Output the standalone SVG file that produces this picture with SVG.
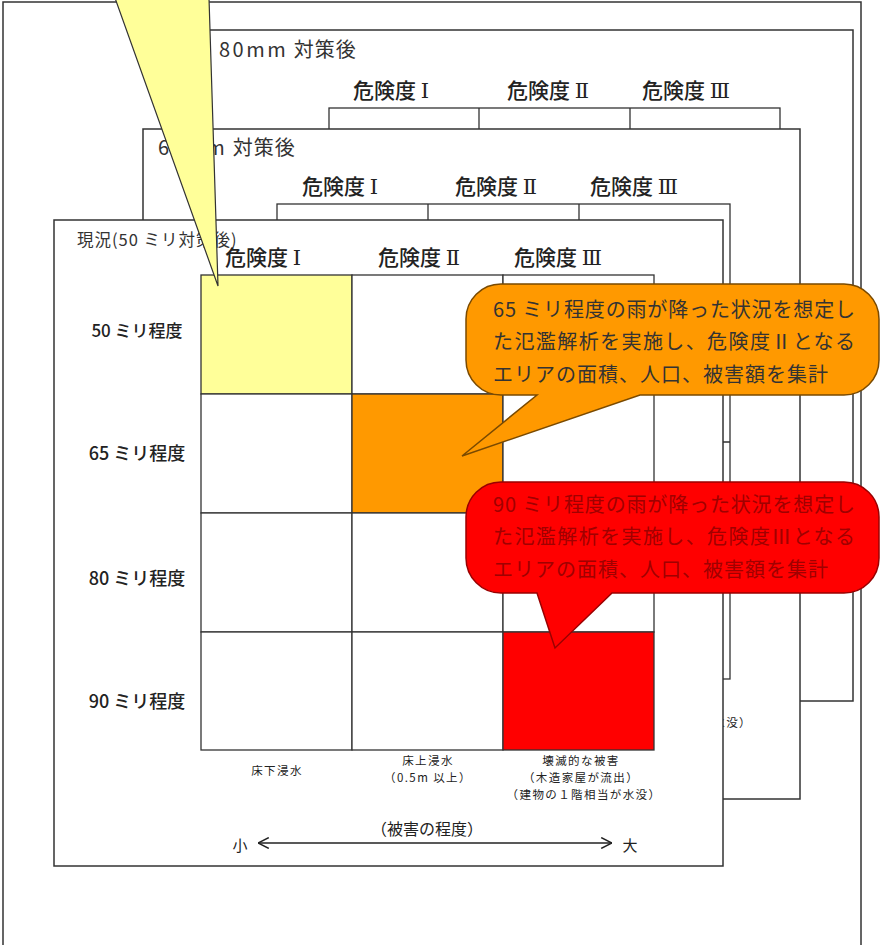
<svg xmlns="http://www.w3.org/2000/svg" width="881" height="945" viewBox="0 0 881 945">
<style>
  .frame{fill:#fff;stroke:#333;stroke-width:1.5}
  .grid{fill:none;stroke:#333;stroke-width:1.3}
  .cell{fill:#fff;stroke:#333;stroke-width:1.3}
  .t{font-family:"Noto Sans CJK JP","Noto Sans CJK SC",sans-serif;fill:#222}
  .ttl{font-size:20px;fill:#333;letter-spacing:1px}
  .mm{letter-spacing:2.5px}
  .hdr{font-size:21px;font-weight:500}
  .rn{font-family:"DejaVu Serif","Liberation Serif",serif;font-weight:normal}
  .row{font-size:18px;text-anchor:middle;font-weight:500}
  .col{font-size:11.5px;text-anchor:middle;letter-spacing:1.4px}
  .co{font-size:20px}
</style>
<defs>
  <marker id="chev" viewBox="0 0 10 10" refX="10" refY="5" markerWidth="12" markerHeight="12" markerUnits="userSpaceOnUse" orient="auto-start-reverse">
    <path d="M1,0.5 L10,5 L1,9.5" fill="none" stroke="#222" stroke-width="1.3"/>
  </marker>
</defs>

<g id="outer-frame">
  <rect x="3" y="2" width="858" height="960" class="frame"/>
</g>

<g id="panel-80">
  <rect x="200" y="30" width="653" height="671" class="frame"/>
  <text x="219" y="57" class="t ttl"><tspan class="mm">80mm</tspan> 対策後</text>
  <text x="353" y="98" class="t hdr">危険度 <tspan class="rn">Ⅰ</tspan></text>
  <text x="507" y="98" class="t hdr">危険度 <tspan class="rn">Ⅱ</tspan></text>
  <text x="642" y="98" class="t hdr">危険度 <tspan class="rn">Ⅲ</tspan></text>
  <rect x="329" y="108" width="451" height="475" class="grid"/>
  <path d="M479,108V583M630,108V583M329,227H780M329,346H780M329,465H780" class="grid"/>
</g>

<g id="panel-60">
  <rect x="143" y="129" width="657" height="670" class="frame"/>
  <text x="158" y="155" class="t ttl"><tspan class="mm">60mm</tspan> 対策後</text>
  <text x="302" y="194" class="t hdr">危険度 <tspan class="rn">Ⅰ</tspan></text>
  <text x="455" y="194" class="t hdr">危険度 <tspan class="rn">Ⅱ</tspan></text>
  <text x="590" y="194" class="t hdr">危険度 <tspan class="rn">Ⅲ</tspan></text>
  <rect x="277" y="204" width="453" height="475" class="grid"/>
  <path d="M428,204V679M579,204V679M277,323H730M277,442H730M277,561H730" class="grid"/>
  <text x="752" y="727" class="t col" style="text-anchor:end">（建物の１階相当が水没）</text>
</g>

<g id="panel-50">
  <rect x="54" y="220" width="669" height="646" class="frame"/>
  <text x="77" y="246" class="t" style="font-size:16.5px;fill:#333;letter-spacing:1px">現況(50 ミリ対策後)</text>
  <text x="225" y="265" class="t hdr">危険度 <tspan class="rn">Ⅰ</tspan></text>
  <text x="378" y="265" class="t hdr">危険度 <tspan class="rn">Ⅱ</tspan></text>
  <text x="514" y="265" class="t hdr">危険度 <tspan class="rn">Ⅲ</tspan></text>
  <g id="grid-50">
    <rect x="201" y="275" width="151" height="119" class="cell" style="fill:#FFFF99"/>
    <rect x="352" y="275" width="151" height="119" class="cell"/>
    <rect x="503" y="275" width="151" height="119" class="cell"/>
    <rect x="201" y="394" width="151" height="119" class="cell"/>
    <rect x="352" y="394" width="151" height="119" class="cell" style="fill:#FF9900"/>
    <rect x="503" y="394" width="151" height="119" class="cell"/>
    <rect x="201" y="513" width="151" height="119" class="cell"/>
    <rect x="352" y="513" width="151" height="119" class="cell"/>
    <rect x="503" y="513" width="151" height="119" class="cell"/>
    <rect x="201" y="632" width="151" height="118" class="cell"/>
    <rect x="352" y="632" width="151" height="118" class="cell"/>
    <rect x="503" y="632" width="151" height="118" class="cell" style="fill:#FF0000"/>
  </g>
  <text x="137" y="337" class="t row" style="font-size:17px">50 ミリ程度</text>
  <text x="137" y="460" class="t row">65 ミリ程度</text>
  <text x="137" y="585" class="t row">80 ミリ程度</text>
  <text x="137" y="708" class="t row">90 ミリ程度</text>
  <text x="277" y="775" class="t col">床下浸水</text>
  <text x="428" y="765" class="t col">床上浸水</text>
  <text x="428" y="782" class="t col">（0.5m 以上）</text>
  <text x="581" y="765" class="t col">壊滅的な被害</text>
  <text x="581" y="782" class="t col">（木造家屋が流出）</text>
  <text x="584" y="799" class="t col">（建物の１階相当が水没）</text>
  <text x="427" y="835" class="t" style="font-size:16px;text-anchor:middle">（被害の程度）</text>
  <text x="240" y="851" class="t" style="font-size:15px;text-anchor:middle">小</text>
  <text x="630" y="851" class="t" style="font-size:15px;text-anchor:middle">大</text>
</g>

<g id="connectors">
  <line x1="258" y1="843" x2="612" y2="843" stroke="#222" stroke-width="1.5" marker-start="url(#chev)" marker-end="url(#chev)"/>
</g>

<g id="callout-yellow">
  <polygon points="115,-2 209,-2 218,286" fill="#FFFF99" stroke="#333" stroke-width="1.2"/>
</g>

<g id="callout-65">
  <path d="M501,284H844A35,35 0 0 1 879,319V360A35,35 0 0 1 844,395H640L462,456L537,395H501A35,35 0 0 1 466,360V319A35,35 0 0 1 501,284Z" fill="#FF9900" stroke="#7a4a00" stroke-width="1.5"/>
  <text x="493" y="317" class="t co" style="fill:#333" textLength="362">65 ミリ程度の雨が降った状況を想定し</text>
  <text x="493" y="349" class="t co" style="fill:#333" textLength="362">た氾濫解析を実施し、危険度Ⅱとなる</text>
  <text x="493" y="382" class="t co" style="fill:#333" textLength="335">エリアの面積、人口、被害額を集計</text>
</g>

<g id="callout-90">
  <path d="M501,482H844A35,35 0 0 1 879,517V558A35,35 0 0 1 844,593H612L555,648L537,593H501A35,35 0 0 1 466,558V517A35,35 0 0 1 501,482Z" fill="#FF0000" stroke="#9a0000" stroke-width="1.5"/>
  <text x="493" y="512" class="t co" style="fill:#A00000" textLength="362">90 ミリ程度の雨が降った状況を想定し</text>
  <text x="493" y="544" class="t co" style="fill:#A00000" textLength="362">た氾濫解析を実施し、危険度Ⅲとなる</text>
  <text x="493" y="577" class="t co" style="fill:#A00000" textLength="335">エリアの面積、人口、被害額を集計</text>
</g>
</svg>
